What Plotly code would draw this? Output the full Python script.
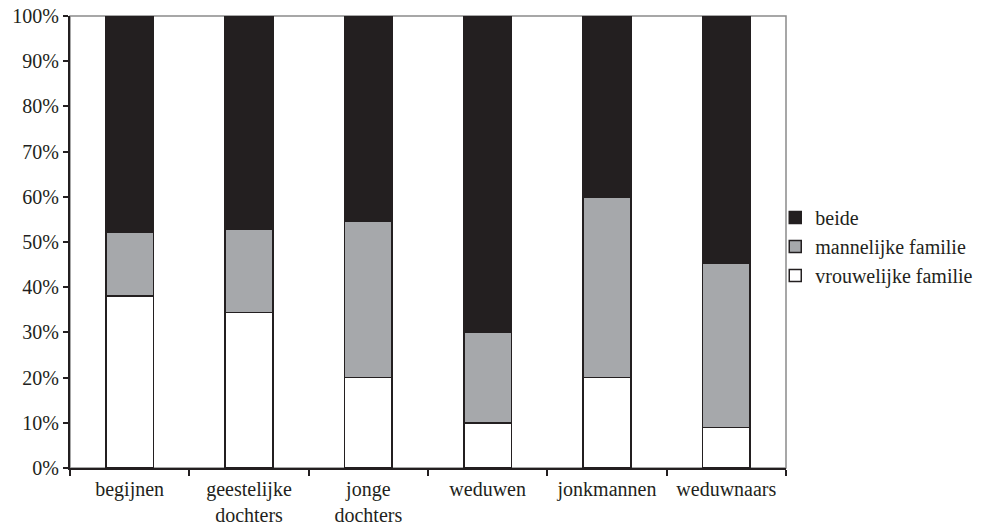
import plotly.graph_objects as go

categories = ["begijnen", "geestelijke<br>dochters", "jonge<br>dochters", "weduwen", "jonkmannen", "weduwnaars"]
vrouwelijke = [38.0, 34.4, 20.0, 10.0, 20.0, 9.0]
mannelijke = [14.1, 18.4, 34.7, 20.0, 39.8, 36.3]
beide = [100 - v - m for v, m in zip(vrouwelijke, mannelijke)]
y_ticks = list(range(0, 101, 10))
y_tick_labels = [f"{v}%" for v in y_ticks]

font_family = "'Liberation Serif', 'Times New Roman', Times, serif"

fig = go.Figure()
fig.add_trace(go.Bar(name="vrouwelijke familie", x=categories, y=vrouwelijke,
                     marker=dict(color="#ffffff", line=dict(color="#231f20", width=1.5))))
fig.add_trace(go.Bar(name="mannelijke familie", x=categories, y=mannelijke,
                     marker=dict(color="#a6a8ab", line=dict(color="#231f20", width=1.5))))
fig.add_trace(go.Bar(name="beide", x=categories, y=beide,
                     marker=dict(color="#231f20", line=dict(color="#231f20", width=1.5))))

fig.update_layout(
    barmode="stack",
    bargap=0.6,
    width=996, height=527,
    margin=dict(l=70, r=210, t=16, b=59),
    paper_bgcolor="white", plot_bgcolor="white",
    font=dict(family=font_family, size=20, color="#231f20"),
    legend=dict(x=0.985, y=0.49, xanchor="left", yanchor="middle",
                traceorder="reversed", font=dict(size=20),
                tracegroupgap=0, bgcolor="rgba(0,0,0,0)"),
    shapes=[dict(type="rect", xref="paper", yref="paper", x0=0, x1=1, y0=0, y1=1,
                 line=dict(color="#8a8a8a", width=1.5), layer="below")],
)
fig.update_yaxes(range=[0, 100], tickvals=y_ticks, ticktext=y_tick_labels, automargin=False,
                 showgrid=False, zeroline=False, showline=True, linecolor="#231f20", linewidth=2,
                 ticks="outside", ticklen=5, tickwidth=1.5, tickcolor="#231f20",
                 ticklabeloverflow="allow", tickfont=dict(size=20))
fig.update_xaxes(showgrid=False, showline=True, linecolor="#231f20", linewidth=2, automargin=False,
                 ticks="outside", tickson="boundaries", ticklen=6, tickwidth=1.5, tickcolor="#231f20",
                 ticklabeloverflow="allow", tickfont=dict(size=20), ticklabelstandoff=2)

fig.write_html("out.html", config={"displayModeBar": False},
               post_script="document.body.style.margin='0';document.body.style.overflow='hidden';")
